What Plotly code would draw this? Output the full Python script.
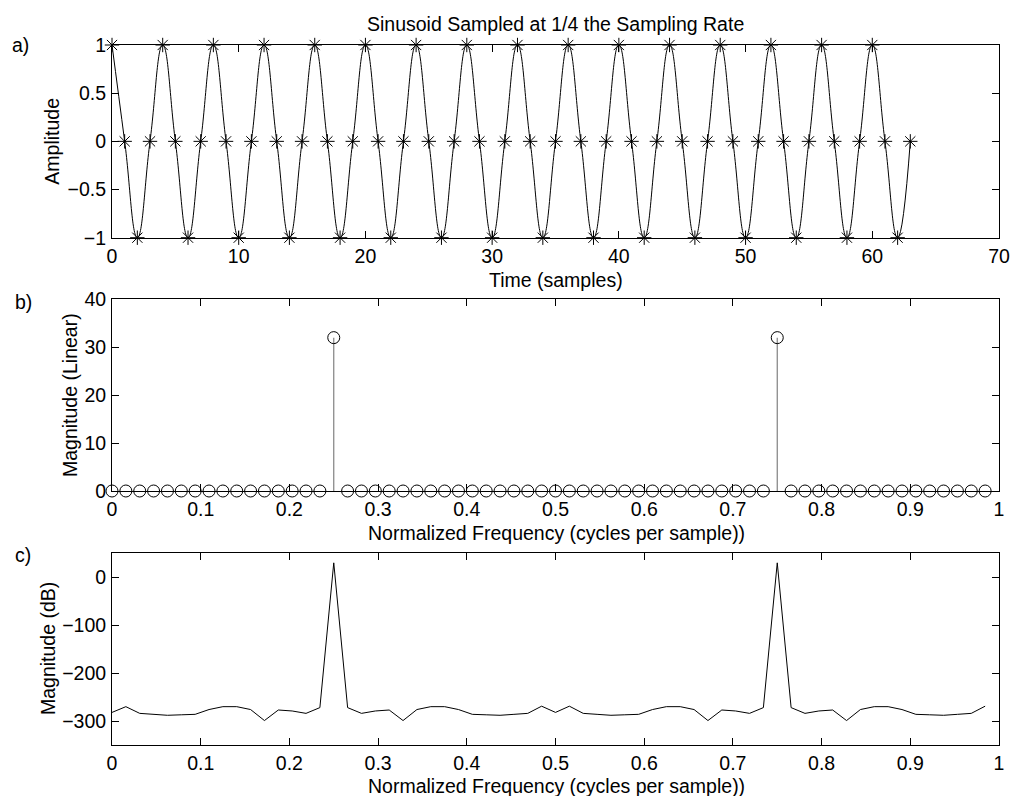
import plotly.graph_objects as go

# ---------------- data ----------------
time_samples = list(range(64))
amplitude = [1, 0, -1, 0, 1, 0, -1, 0, 1, 0, -1, 0, 1, 0, -1, 0,
             1, 0, -1, 0, 1, 0, -1, 0, 1, 0, -1, 0, 1, 0, -1, 0,
             1, 0, -1, 0, 1, 0, -1, 0, 1, 0, -1, 0, 1, 0, -1, 0,
             1, 0, -1, 0, 1, 0, -1, 0, 1, 0, -1, 0, 1, 0, -1, 0]

freq_bins = [0.0, 0.015625, 0.03125, 0.046875, 0.0625, 0.078125, 0.09375, 0.109375,
             0.125, 0.140625, 0.15625, 0.171875, 0.1875, 0.203125, 0.21875, 0.234375,
             0.25, 0.265625, 0.28125, 0.296875, 0.3125, 0.328125, 0.34375, 0.359375,
             0.375, 0.390625, 0.40625, 0.421875, 0.4375, 0.453125, 0.46875, 0.484375,
             0.5, 0.515625, 0.53125, 0.546875, 0.5625, 0.578125, 0.59375, 0.609375,
             0.625, 0.640625, 0.65625, 0.671875, 0.6875, 0.703125, 0.71875, 0.734375,
             0.75, 0.765625, 0.78125, 0.796875, 0.8125, 0.828125, 0.84375, 0.859375,
             0.875, 0.890625, 0.90625, 0.921875, 0.9375, 0.953125, 0.96875, 0.984375]

mag_linear = [0, 0, 0, 0, 0, 0, 0, 0, 0, 0, 0, 0, 0, 0, 0, 0,
              32, 0, 0, 0, 0, 0, 0, 0, 0, 0, 0, 0, 0, 0, 0, 0,
              0, 0, 0, 0, 0, 0, 0, 0, 0, 0, 0, 0, 0, 0, 0, 0,
              32, 0, 0, 0, 0, 0, 0, 0, 0, 0, 0, 0, 0, 0, 0, 0]

mag_db = [-282, -270, -284, -286, -288, -287, -286, -276,
          -270, -270, -276, -299, -277, -279, -284, -272,
          30.1, -272, -284, -279, -277, -299, -276, -270,
          -270, -276, -286, -287, -288, -286, -284, -269,
          -282, -269, -284, -286, -288, -287, -286, -276,
          -270, -270, -276, -299, -277, -279, -284, -272,
          30.1, -272, -284, -279, -277, -299, -276, -270,
          -270, -276, -286, -287, -288, -286, -284, -269]

title_text = "Sinusoid Sampled at 1/4 the Sampling Rate"

# ---------------- figure ----------------
FONT = "Liberation Sans, Arial, Helvetica, sans-serif"
FS = 19.5
W, H = 1012, 796
ML, MT = 112, 45
MR = W - 999
MB = H - 745
PW, PH = W - ML - MR, H - MT - MB


def px_x(px):
    """reference-image x pixel -> paper coordinate"""
    return (px - ML) / PW


def px_y(py):
    """reference-image y pixel -> paper coordinate"""
    return (H - MB - py) / PH


fig = go.Figure()

# a) sinusoid
fig.add_trace(go.Scatter(
    x=time_samples, y=amplitude, mode="lines+markers",
    line=dict(color="black", width=1, shape="spline", smoothing=1.3),
    marker=dict(symbol="asterisk-open", size=12, color="black",
                line=dict(color="black", width=1)),
    cliponaxis=False, xaxis="x", yaxis="y", showlegend=False))

# b) stems
stem_x, stem_y = [], []
for f, m in zip(freq_bins, mag_linear):
    stem_x += [f, f, None]
    stem_y += [0, m, None]
fig.add_trace(go.Scatter(
    x=stem_x, y=stem_y, mode="lines",
    line=dict(color="#808080", width=1.2),
    xaxis="x2", yaxis="y2", showlegend=False, hoverinfo="skip"))
fig.add_trace(go.Scatter(
    x=freq_bins, y=mag_linear, mode="markers",
    marker=dict(symbol="circle-open", size=12, color="black",
                line=dict(color="black", width=1)),
    cliponaxis=False, xaxis="x2", yaxis="y2", showlegend=False))

# c) dB
fig.add_trace(go.Scatter(
    x=freq_bins, y=mag_db, mode="lines",
    line=dict(color="black", width=1),
    xaxis="x3", yaxis="y3", showlegend=False))

axis_common = dict(
    showline=True, linecolor="black", linewidth=1, mirror="ticks",
    ticks="inside", ticklen=7, tickwidth=1, tickcolor="black",
    showgrid=False, zeroline=False, automargin=False,
    tickfont=dict(family=FONT, size=FS, color="black"),
)

dom_a = [px_y(237.7), 1.0]
dom_b = [px_y(491), px_y(299.3)]
dom_c = [0.0, px_y(553.3)]

fig.update_layout(
    width=W, height=H,
    margin=dict(l=ML, r=MR, t=MT, b=MB, autoexpand=False),
    paper_bgcolor="white", plot_bgcolor="white",
    font=dict(family=FONT, size=FS, color="black"),
    xaxis=dict(axis_common, domain=[0, 1], range=[0, 70], tickvals=[0, 10, 20, 30, 40, 50, 60, 70],
               anchor="y", ticklabelstandoff=1),
    yaxis=dict(axis_common, domain=dom_a, range=[-1, 1], tickvals=[-1, -0.5, 0, 0.5, 1],
               anchor="x", ticklabelstandoff=1),
    xaxis2=dict(axis_common, domain=[0, 1], range=[0, 1],
                tickvals=[0, 0.1, 0.2, 0.3, 0.4, 0.5, 0.6, 0.7, 0.8, 0.9, 1],
                anchor="y2", ticklabelstandoff=1),
    yaxis2=dict(axis_common, domain=dom_b, range=[0, 40], tickvals=[0, 10, 20, 30, 40],
                anchor="x2", ticklabelstandoff=1),
    xaxis3=dict(axis_common, domain=[0, 1], range=[0, 1],
                tickvals=[0, 0.1, 0.2, 0.3, 0.4, 0.5, 0.6, 0.7, 0.8, 0.9, 1],
                anchor="y3", ticklabelstandoff=1),
    yaxis3=dict(axis_common, domain=dom_c, range=[-350, 50], tickvals=[-300, -200, -100, 0],
                anchor="x3", ticklabelstandoff=1),
)

annots = [
    dict(text=title_text, x=0.5, y=px_y(24), xanchor="center", yanchor="middle"),
    dict(text="a)", x=px_x(10), y=px_y(45), xanchor="left", yanchor="middle"),
    dict(text="b)", x=px_x(13), y=px_y(302), xanchor="left", yanchor="middle"),
    dict(text="c)", x=px_x(13), y=px_y(555), xanchor="left", yanchor="middle"),
    dict(text="Amplitude", x=px_x(52), y=px_y(141.7), textangle=-90,
         xanchor="center", yanchor="middle"),
    dict(text="Magnitude (Linear)", x=px_x(70), y=px_y(395), textangle=-90,
         xanchor="center", yanchor="middle"),
    dict(text="Magnitude (dB)", x=px_x(48), y=px_y(649), textangle=-90,
         xanchor="center", yanchor="middle"),
    dict(text="Time (samples)", x=px_x(556), y=px_y(280), xanchor="center", yanchor="middle"),
    dict(text="Normalized Frequency (cycles per sample))", x=px_x(556), y=px_y(533),
         xanchor="center", yanchor="middle"),
    dict(text="Normalized Frequency (cycles per sample))", x=px_x(556), y=px_y(786),
         xanchor="center", yanchor="middle"),
]
for a in annots:
    a.update(xref="paper", yref="paper", showarrow=False,
             font=dict(family=FONT, size=FS, color="black"))
fig.update_layout(annotations=annots)

# remove the browser's default page margin so the figure fills the window exactly
fig.write_html(
    "out.html",
    config={"displayModeBar": False},
    post_script="document.body.style.margin='0';document.body.style.overflow='hidden';",
)
